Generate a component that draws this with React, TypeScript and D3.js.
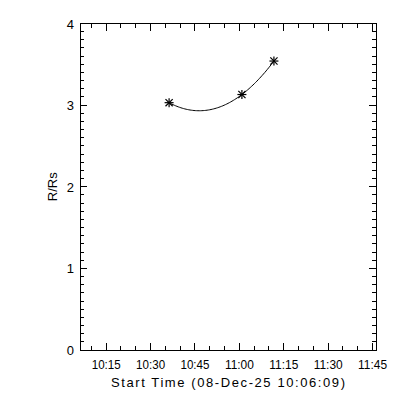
import React from "react";
import * as d3 from "d3";

// Data
const startLabel = "Start Time (08-Dec-25 10:06:09)";
const axisStart = "2025-12-08T10:06:09Z";
const axisEnd = "2025-12-08T11:46:09Z";
const obsTimes = ["2025-12-08T10:36:15Z", "2025-12-08T11:00:51Z", "2025-12-08T11:11:40Z"];
const obsHeights = [3.03, 3.13, 3.54];
const yTicks = [0, 1, 2, 3, 4];
const yLabel = "R/Rs";

const W = 400, H = 400;
const m = { left: 80, right: 376, top: 23.5, bottom: 350 };

export default function App() {
  const x = d3.scaleUtc().domain([new Date(axisStart), new Date(axisEnd)]).range([m.left, m.right]);
  const y = d3.scaleLinear().domain([0, 4]).range([m.bottom, m.top]);
  const fmt = d3.utcFormat("%H:%M");

  const majorX = x.ticks(d3.utcMinute.every(15)!);
  const minorX = x.ticks(d3.utcMinute.every(5)!).filter(t => t.getUTCMinutes() % 15 !== 0);
  const minorY = d3.range(0, 40).map(i => i / 10).filter(v => Math.abs(v - Math.round(v)) > 1e-6);

  // quadratic fit through the observed points (time in minutes)
  const t0 = new Date(axisStart).getTime();
  const pts = obsTimes.map((s, i) => ({ t: (new Date(s).getTime() - t0) / 60000, h: obsHeights[i], d: new Date(s) }));
  const lag = (t: number) => {
    let s = 0;
    for (let i = 0; i < pts.length; i++) {
      let p = pts[i].h;
      for (let j = 0; j < pts.length; j++) if (j !== i) p *= (t - pts[j].t) / (pts[i].t - pts[j].t);
      s += p;
    }
    return s;
  };
  const n = 80;
  const fitPts: [number, number][] = d3.range(n + 1).map(k => {
    const t = pts[0].t + (pts[pts.length - 1].t - pts[0].t) * k / n;
    return [x(new Date(t0 + t * 60000)), y(lag(t))];
  });
  const line = d3.line();

  const font = "'Liberation Sans', Arial, sans-serif";
  const maj = 7, min = 4;
  const s = 4.5;

  return (
    <svg width={W} height={H} style={{ position: "absolute", left: 0, top: 0, background: "#fff" }}>
      <rect x={0} y={0} width={W} height={H} fill="#fff" />
      <g stroke="#000" strokeWidth={1} shapeRendering="crispEdges" fill="none">
        <rect x={m.left} y={m.top} width={m.right - m.left} height={m.bottom - m.top} />
        {majorX.map((t, i) => (
          <g key={"mx" + i}>
            <line x1={x(t)} x2={x(t)} y1={m.bottom} y2={m.bottom - maj} />
            <line x1={x(t)} x2={x(t)} y1={m.top} y2={m.top + maj} />
          </g>
        ))}
        {minorX.map((t, i) => (
          <g key={"nx" + i}>
            <line x1={x(t)} x2={x(t)} y1={m.bottom} y2={m.bottom - min} />
            <line x1={x(t)} x2={x(t)} y1={m.top} y2={m.top + min} />
          </g>
        ))}
        {yTicks.map((v, i) => (
          <g key={"my" + i}>
            <line x1={m.left} x2={m.left + maj} y1={y(v)} y2={y(v)} />
            <line x1={m.right} x2={m.right - maj} y1={y(v)} y2={y(v)} />
          </g>
        ))}
        {minorY.map((v, i) => (
          <g key={"ny" + i}>
            <line x1={m.left} x2={m.left + min} y1={y(v)} y2={y(v)} />
            <line x1={m.right} x2={m.right - min} y1={y(v)} y2={y(v)} />
          </g>
        ))}
      </g>
      <path d={line(fitPts) || ""} fill="none" stroke="#000" strokeWidth={1} />
      <g stroke="#000" strokeWidth={1.2}>
        {pts.map((p, i) => {
          const cx = x(p.d), cy = y(p.h);
          return (
            <g key={"p" + i}>
              <line x1={cx - s} x2={cx + s} y1={cy} y2={cy} />
              <line x1={cx} x2={cx} y1={cy - s} y2={cy + s} />
              <line x1={cx - s * 0.8} x2={cx + s * 0.8} y1={cy - s * 0.8} y2={cy + s * 0.8} />
              <line x1={cx - s * 0.8} x2={cx + s * 0.8} y1={cy + s * 0.8} y2={cy - s * 0.8} />
            </g>
          );
        })}
      </g>
      <g fontFamily={font} fontSize={13} fill="#000">
        {majorX.map((t, i) => (
          <text key={"lx" + i} x={x(t)} y={369} textAnchor="middle" textLength={29} lengthAdjust="spacingAndGlyphs">{fmt(t)}</text>
        ))}
        {yTicks.map((v, i) => (
          <text key={"ly" + i} x={74} y={y(v) + 5} textAnchor="end">{String(v)}</text>
        ))}
        <text x={228} y={387} textAnchor="middle" textLength={234} lengthAdjust="spacing">{startLabel}</text>
        <text transform={`translate(57,${(m.top + m.bottom) / 2}) rotate(-90)`} textAnchor="middle">{yLabel}</text>
      </g>
    </svg>
  );
}
